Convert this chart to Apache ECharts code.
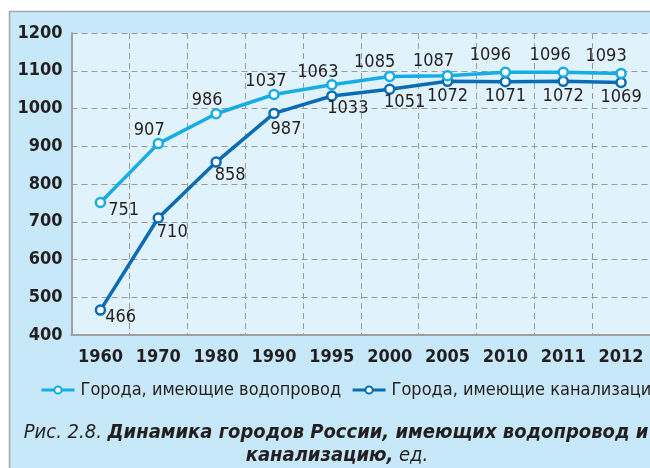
<!DOCTYPE html>
<html>
<head>
<meta charset="utf-8">
<script src="https://cdn.jsdelivr.net/npm/echarts@6/dist/echarts.min.js"></script>
<style>
  html, body { margin: 0; padding: 0; background: #fff; }
  #chart { width: 650px; height: 468px; }
</style>
</head>
<body>
<div id="chart"></div>
<script>
// данные
const years = ['1960', '1970', '1980', '1990', '1995', '2000', '2005', '2010', '2011', '2012']
const waterCities = [751, 907, 986, 1037, 1063, 1085, 1087, 1096, 1096, 1093]
const sewerCities = [466, 710, 858, 987, 1033, 1051, 1072, 1071, 1072, 1069]
const yTicks = [400, 500, 600, 700, 800, 900, 1000, 1100, 1200]

// смещения подписей (только оформление)
const waterLabelPos = ['right', 'top', 'top', 'top', 'top', 'top', 'top', 'top', 'top', 'top']
const waterLabelOffset = [[0, 8], [-9, 3], [-9, 3], [-8, 4], [-14, 4], [-15, 3], [-14, 2], [-15, 0], [-13, 0], [-15, 0]]
const sewerLabelPos = ['right', 'bottom', 'bottom', 'bottom', 'bottom', 'bottom', 'bottom', 'bottom', 'bottom', 'bottom']
const sewerLabelOffset = [[-3, 7], [14, -2], [14, -4], [12, -1], [16, -4], [15, -4], [0, -2], [0, -2], [0, -2], [0, -2]]

const FONT = '"Liberation Sans Narrow", "DejaVu Sans Condensed", sans-serif'
const TEXT = '#231f20'
const WATER = '#17ace6'
const SEWER = '#0a6cb4'

const chart = echarts.init(document.getElementById('chart'))

const makeData = (values, pos, offs) => values.map((v, i) => ({
  value: v,
  label: { position: pos[i], offset: offs[i] }
}))

const richCaption = {
  n: { fontFamily: FONT, fontStyle: 'italic', fontSize: 20, fill: TEXT },
  b: { fontFamily: FONT, fontStyle: 'italic', fontWeight: 'bold', fontSize: 20, fill: TEXT }
}

const option = {
  animation: false,
  textStyle: { fontFamily: FONT },
  graphic: [
    {
      type: 'rect',
      z: -10,
      shape: { x: 9.5, y: 11.5, width: 660, height: 470 },
      style: { fill: '#c6e8f8', stroke: '#a3a8ab', lineWidth: 1.5 }
    },
    {
      type: 'text',
      x: 336,
      y: 423,
      style: {
        text: '{n|Рис. 2.8. }{b|Динамика городов России, имеющих водопровод и}',
        textAlign: 'center',
        rich: richCaption
      }
    },
    {
      type: 'text',
      x: 337,
      y: 446,
      style: {
        text: '{b|канализацию,}{n| ед.}',
        textAlign: 'center',
        rich: richCaption
      }
    }
  ],
  legend: {
    left: 35,
    top: 376,
    width: 900,
    orient: 'horizontal',
    itemWidth: 33,
    itemHeight: 9,
    itemGap: 10,
    lineStyle: { width: 3 },
    textStyle: { fontFamily: FONT, fontSize: 18, color: TEXT, padding: [0, 0, 0, 1] },
    data: ['Города, имеющие водопровод', 'Города, имеющие канализацию']
  },
  grid: {
    left: 71.5,
    right: -9.5,
    top: 33,
    bottom: 133,
    show: true,
    backgroundColor: '#e0f2fb',
    borderWidth: 0
  },
  xAxis: {
    type: 'category',
    data: years,
    boundaryGap: true,
    axisLine: { lineStyle: { color: '#a0a0a0', width: 2 } },
    axisTick: { show: false },
    axisLabel: {
      interval: 0,
      fontFamily: FONT, fontSize: 18, fontWeight: 'bold', color: TEXT, margin: 13
    },
    splitLine: {
      show: true,
      interval: 0,
      lineStyle: { color: '#9a9a9a', type: [6, 4], width: 1 }
    }
  },
  yAxis: {
    type: 'value',
    min: yTicks[0],
    max: yTicks[yTicks.length - 1],
    interval: 100,
    axisLine: { show: true, lineStyle: { color: '#a0a0a0', width: 2 } },
    axisTick: { show: false },
    axisLabel: {
      formatter: v => String(v),
      fontFamily: FONT, fontSize: 18, fontWeight: 'bold', color: TEXT, margin: 9
    },
    splitLine: {
      lineStyle: { color: '#9a9a9a', type: [6, 4], width: 1 }
    }
  },
  series: [
    {
      name: 'Города, имеющие водопровод',
      type: 'line',
      data: makeData(waterCities, waterLabelPos, waterLabelOffset),
      symbol: 'circle',
      symbolSize: 9,
      lineStyle: { color: WATER, width: 3.5 },
      itemStyle: { color: '#ffffff', borderColor: WATER, borderWidth: 2.5 },
      label: {
        show: true, distance: 2,
        fontFamily: FONT, fontSize: 18, color: TEXT
      },
      z: 3
    },
    {
      name: 'Города, имеющие канализацию',
      type: 'line',
      data: makeData(sewerCities, sewerLabelPos, sewerLabelOffset),
      symbol: 'circle',
      symbolSize: 9,
      lineStyle: { color: SEWER, width: 3.5 },
      itemStyle: { color: '#ffffff', borderColor: SEWER, borderWidth: 2.5 },
      label: {
        show: true, distance: 2,
        fontFamily: FONT, fontSize: 18, color: TEXT
      },
      z: 2
    }
  ]
}

chart.setOption(option)
</script>
</body>
</html>
